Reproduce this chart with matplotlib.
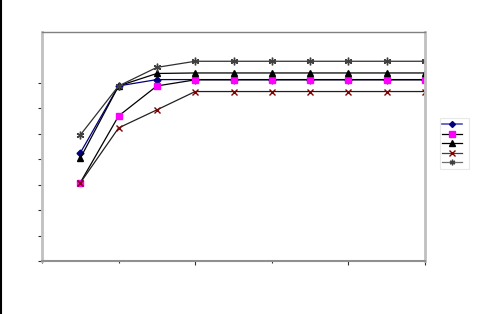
import matplotlib.pyplot as plt
from matplotlib.lines import Line2D

x = [1, 2, 3, 4, 5, 6, 7, 8, 9, 10]

s1 = [4.25, 6.88, 7.13, 7.13, 7.13, 7.13, 7.13, 7.13, 7.13, 7.13]
s2 = [3.08, 5.70, 6.88, 7.12, 7.12, 7.12, 7.12, 7.12, 7.12, 7.12]
s3 = [4.04, 6.88, 7.37, 7.39, 7.39, 7.39, 7.39, 7.39, 7.39, 7.39]
s4 = [3.07, 5.23, 5.94, 6.66, 6.66, 6.66, 6.66, 6.66, 6.66, 6.66]
s5 = [4.95, 6.88, 7.61, 7.85, 7.85, 7.85, 7.85, 7.85, 7.85, 7.85]

fig = plt.figure(figsize=(4.79, 3.14), dpi=100)
ax = fig.add_axes([42/479, 53/314, 383/479, 229/314])

lw = 0.9
ax.plot(x, s1, color='#000080', lw=lw, marker='D', ms=3.5,
        mfc='#000080', mec='#000080')
ax.plot(x, s2, color='black', lw=lw, marker='s', ms=5,
        mfc='#ff00ff', mec='#ff00ff')
ax.plot(x, s3, color='black', lw=lw, marker='^', ms=4.5,
        mfc='black', mec='black')
ax.plot(x, s4, color='#202020', lw=lw, marker='x', ms=5,
        mec='#800000', mew=1.0)
ax.plot(x, s5, color='#303030', lw=lw, marker=(6, 2, 0), ms=5.5,
        mec='#404040', mew=1.0)

ax.set_xlim(0, 10)
ax.set_ylim(0, 9)
ax.set_xticks([0, 2, 4, 6, 8, 10])
ax.set_yticks(range(0, 8))
ax.set_xticklabels([])
ax.set_yticklabels([])
ax.tick_params(axis='both', length=3, width=0.8, color='#303030', direction='out')
# some of the ticks look faint in the original
for i in [2, 3]:
    ax.yaxis.get_major_ticks()[i].tick1line.set_color('#d8d8d8')
for i in [0, 1, 3]:
    ax.xaxis.get_major_ticks()[i].tick1line.set_color('#c8c8c8')
    ax.xaxis.get_major_ticks()[i].tick1line.set_markersize(1.5)

ax.spines['top'].set_color('#808080')
ax.spines['top'].set_linewidth(1.0)
ax.spines['right'].set_color('#c0c0c0')
ax.spines['right'].set_linewidth(2.0)
ax.spines['left'].set_color('#c0c0c0')
ax.spines['left'].set_linewidth(2.0)
ax.spines['bottom'].set_color('#909090')
ax.spines['bottom'].set_linewidth(1.5)

# legend (no text)
leg_handles = [
    Line2D([], [], color='#5050c0', lw=1.2, marker='D', ms=3, mfc='#000080', mec='#000080'),
    Line2D([], [], color='black', lw=0.9, marker='s', ms=4, mfc='#ff00ff', mec='#ff00ff'),
    Line2D([], [], color='black', lw=0.9, marker='^', ms=4, mfc='black', mec='black'),
    Line2D([], [], color='#404040', lw=0.9, marker='x', ms=4, mec='#800000', mew=1.0),
    Line2D([], [], color='#707070', lw=0.9, marker=(6, 2, 0), ms=4, mec='#404040', mew=1.0),
]
leg = fig.legend(leg_handles, [' '] * 5, loc='upper left',
                 bbox_to_anchor=(436/479, 1 - 114/314), frameon=True,
                 handlelength=2.4, handletextpad=0.3, labelspacing=0.05,
                 borderpad=0.25, fontsize=6, fancybox=False)
leg.get_frame().set_edgecolor('#e4e4e4')
leg.get_frame().set_linewidth(0.8)

# black border line at left edge of the image
fig.add_artist(Line2D([0.002, 0.002], [0, 1], color='black', lw=1.5,
                      transform=fig.transFigure))

fig.savefig('out.png', dpi=100)
